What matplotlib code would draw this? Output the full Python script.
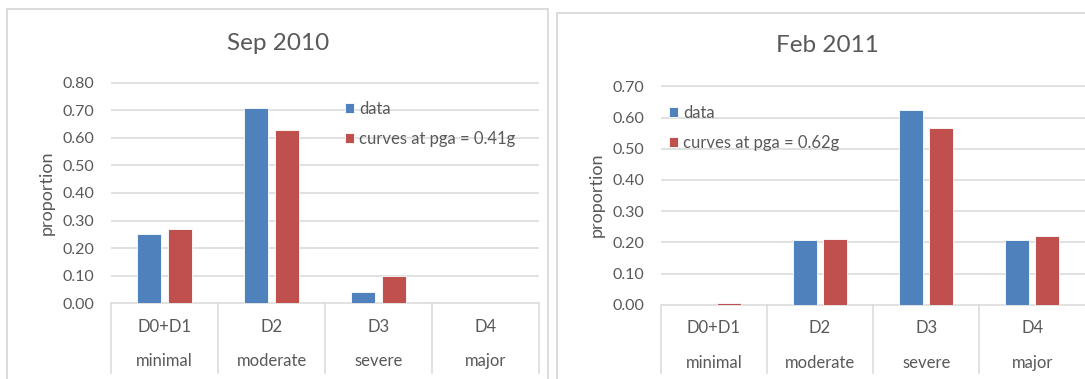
import matplotlib
matplotlib.use("Agg")
import matplotlib.pyplot as plt
from matplotlib.patches import Rectangle
import numpy as np

plt.rcParams['font.family'] = ['Lato', 'DejaVu Sans']

states = ['D0+D1', 'D2', 'D3', 'D4']
descr = ['minimal', 'moderate', 'severe', 'major']

sep_data = [0.25, 0.71, 0.04, 0.0]
sep_curves = [0.27, 0.63, 0.10, 0.0]
feb_data = [0.0, 0.208, 0.625, 0.208]
feb_curves = [0.004, 0.21, 0.565, 0.22]

BLUE = '#4F81BD'
RED = '#C0504D'
GRID = '#D9D9D9'
TXT = '#595959'

W, H = 1085, 379
fig = plt.figure(figsize=(W / 100, H / 100), dpi=100)


def box(x0, y0, x1, y1):
    # pixel box measured from top-left -> figure rect
    return [x0 / W, 1 - y1 / H, (x1 - x0) / W, (y1 - y0) / H]


def frame(x0, y0, x1, y1):
    r = box(x0, y0, x1, y1)
    fig.patches.append(Rectangle((r[0], r[1]), r[2], r[3], transform=fig.transFigure,
                                 fill=False, ec=GRID, lw=1.3))


def panel(rect, ymax, data, curves, title, title_xy, ylab_xy, leg_xy, pga, sep_bot, lab_y):
    ax = fig.add_axes(box(*rect))
    x = np.arange(len(states))
    yt = np.arange(0, ymax + 0.001, 0.1)
    ax.set_xlim(-0.5, len(states) - 0.5)
    ax.set_ylim(0, ymax)
    ax.hlines(yt, -0.5, len(states) - 0.5, color=GRID, lw=1.1, zorder=0, clip_on=False)
    b1 = ax.bar(x - 0.141, data, 0.225, color=BLUE, ec='white', lw=0.6, zorder=2)
    b2 = ax.bar(x + 0.141, curves, 0.225, color=RED, ec='white', lw=0.6, zorder=2)

    for s in ax.spines.values():
        s.set_visible(False)
    ax.set_xticks([])
    ax.set_yticks(yt)
    ax.set_yticklabels([f'{v:.2f}' for v in yt])
    ax.tick_params(axis='y', length=0, pad=12, labelsize=11.5, labelcolor=TXT)

    # category separators and two-level labels below the axis
    tr = ax.get_xaxis_transform()
    for xs in np.arange(len(states) + 1) - 0.5:
        ax.plot([xs, xs], [0, -sep_bot], color=GRID, lw=1.1, transform=tr, clip_on=False)
    for i in x:
        ax.text(i, lab_y[0], states[i], transform=tr, ha='center', va='center',
                fontsize=12, color=TXT)
        ax.text(i, lab_y[1], descr[i], transform=tr, ha='center', va='center',
                fontsize=12, color=TXT)

    fig.text(title_xy[0] / W, 1 - title_xy[1] / H, title, ha='center', va='center',
             fontsize=17.5, color=TXT)
    fig.text(ylab_xy[0] / W, 1 - ylab_xy[1] / H, 'proportion', rotation=90,
             ha='center', va='center', fontsize=13, color=TXT)

    leg = ax.legend([b1, b2], ['data', f'curves at pga = {pga}'], loc='upper left',
                    bbox_to_anchor=(leg_xy[0] / W, 1 - leg_xy[1] / H),
                    bbox_transform=fig.transFigure, frameon=False, fontsize=12,
                    handlelength=0.55, handleheight=0.55, handletextpad=0.3,
                    labelspacing=0.85, borderpad=0, borderaxespad=0)
    for t in leg.get_texts():
        t.set_color(TXT)
    return ax


frame(7, 9, 548, 390)
frame(557, 13, 1110, 390)

panel((111, 82.7, 539, 303.3), 0.8, sep_data, sep_curves, 'Sep 2010',
      (278, 43), (47, 193), (345, 101), '0.41g', 0.316, (-0.107, -0.262))
panel((660.7, 86.3, 1085.5, 304.7), 0.7, feb_data, feb_curves, 'Feb 2011',
      (827, 46), (597, 195), (669, 105), '0.62g', 0.313, (-0.107, -0.265))

fig.savefig('out.png', dpi=100)
